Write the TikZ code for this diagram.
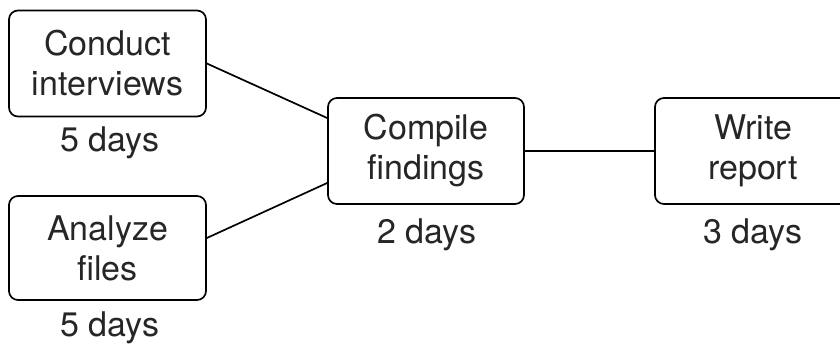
\documentclass[tikz,border=0pt]{standalone}
\usepackage{fontspec}
\setmainfont{TeX Gyre Heros}
\begin{document}
\begin{tikzpicture}[x=1pt,y=-1pt,
  task/.style={draw, line width=1.7pt, rounded corners=9pt, align=center,
    minimum width=197pt, minimum height=106pt, inner sep=0pt,
    font=\fontsize{34}{40}\selectfont, text=black!85},
  dur/.style={font=\fontsize{34}{40}\selectfont, text=black!85, inner sep=0pt},
  link/.style={line width=1.7pt}]
\useasboundingbox (0,0) rectangle (840,347);
\clip (0,0) rectangle (840,347);
\node[task] (ci) at (107.5,63.5) {Conduct\\interviews};
\node[task, minimum height=104pt] (af) at (107.5,248) {Analyze\\files};
\node[task, minimum width=196pt] (cf) at (426,151) {Compile\\findings};
\node[task, minimum width=196pt] (wr) at (753,151) {Write\\report};
\node[dur] (d1) at (110,143) {5 days};
\node[dur] (d2) at (110,328) {5 days};
\node[dur] (d3) at (427,235) {2 days};
\node[dur] (d4) at (753,235) {3 days};
\draw[link] (ci.east) -- ([yshift=33pt]cf.west);
\draw[link] ([yshift=10pt]af.east) -- ([yshift=-32pt]cf.west);
\draw[link] (cf.east) -- (wr.west);
\end{tikzpicture}
\end{document}
